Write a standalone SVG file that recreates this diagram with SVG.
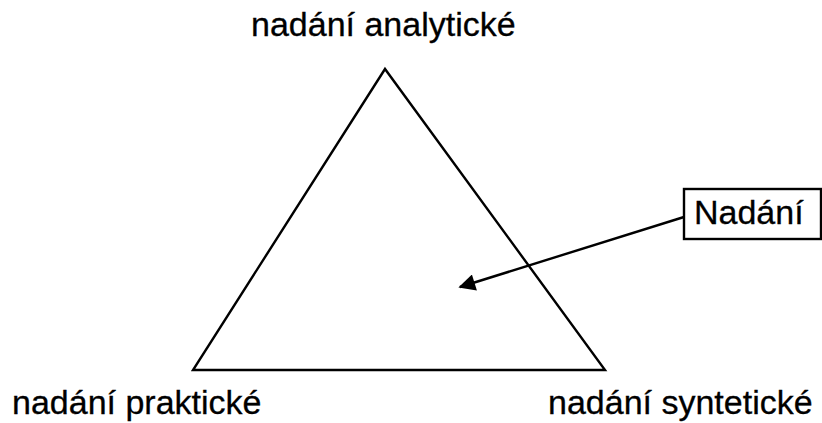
<svg xmlns="http://www.w3.org/2000/svg" width="822" height="423" viewBox="0 0 822 423">
<style>
.t{font-family:"Liberation Sans",Arial,sans-serif;font-size:34px;fill:#000;stroke:#000;stroke-width:0.3}
.s{fill:none;stroke:#000;stroke-width:2.4}
</style>
<defs>
<marker id="ah" viewBox="0 0 10 10" refX="9" refY="5" markerWidth="9" markerHeight="7" orient="auto" markerUnits="strokeWidth">
<path d="M0,0 L10,5 L0,10 z" fill="#000"/>
</marker>
</defs>
<rect width="822" height="423" fill="#fff"/>
<g id="triangle">
<polygon class="s" points="385,69 193,370 605,370" stroke-linejoin="miter"/>
</g>
<g id="node-analyticke"><text class="t" x="251" y="36">nadání analytické</text></g>
<g id="node-prakticke"><text class="t" x="12" y="414">nadání praktické</text></g>
<g id="node-synteticke"><text class="t" x="548" y="414">nadání syntetické</text></g>
<g id="node-nadani">
<rect class="s" x="684" y="189" width="137" height="50"/>
<text class="t" x="694" y="224">Nadání</text>
</g>
<g id="connectors">
<line class="s" x1="684" y1="217" x2="460" y2="287" marker-end="url(#ah)"/>
</g>
</svg>
